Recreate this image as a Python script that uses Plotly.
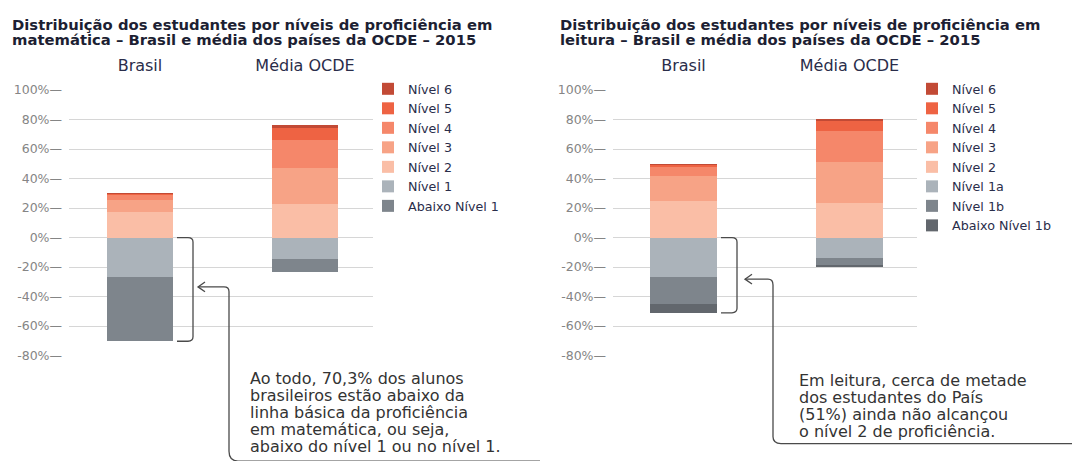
import plotly.graph_objects as go

W, H = 1080, 461

# ---------------- data ----------------
categories = ["Brasil", "Média OCDE"]

# Matemática
math_pos_levels = ["Nível 2", "Nível 3", "Nível 4", "Nível 5", "Nível 6"]
math_brasil_pos = [17.2, 8.4, 3.3, 0.8, 0.1]
math_ocde_pos = [22.5, 24.8, 18.6, 8.4, 2.3]
math_neg_levels = ["Nível 1", "Abaixo Nível 1"]
math_brasil_neg = [26.6, 43.7]
math_ocde_neg = [14.3, 9.1]

# Leitura
read_pos_levels = ["Nível 2", "Nível 3", "Nível 4", "Nível 5", "Nível 6"]
read_brasil_pos = [24.9, 17.0, 6.3, 1.3, 0.1]
read_ocde_pos = [23.2, 27.9, 21.0, 7.2, 1.1]
read_neg_levels = ["Nível 1a", "Nível 1b", "Abaixo Nível 1b"]
read_brasil_neg = [26.8, 18.0, 6.2]
read_ocde_neg = [13.6, 5.2, 1.3]

tick_values = [-80, -60, -40, -20, 0, 20, 40, 60, 80, 100]
tick_labels = ["-80%—", "-60%—", "-40%—", "-20%—", "0%—",
               "20%—", "40%—", "60%—", "80%—", "100%—"]

title_math = ["Distribuição dos estudantes por níveis de proficiência em",
              "matemática – Brasil e média dos países da OCDE – 2015"]
title_read = ["Distribuição dos estudantes por níveis de proficiência em",
              "leitura – Brasil e média dos países da OCDE – 2015"]
note_math = ["Ao todo, 70,3% dos alunos",
             "brasileiros estão abaixo da",
             "linha básica da proficiência",
             "em matemática, ou seja,",
             "abaixo do nível 1 ou no nível 1."]
note_read = ["Em leitura, cerca de metade",
             "dos estudantes do País",
             "(51%) ainda não alcançou",
             "o nível 2 de proficiência."]

# ---------------- styles ----------------
pos_colors = ["#fabea6", "#f7a386", "#f5876a", "#ee6343", "#c24a35"]
neg_colors_math = ["#abb3ba", "#7e858c"]
neg_colors_read = ["#abb3ba", "#7e858c", "#62676d"]
NAVY = "#2a2d4a"
FONT = "DejaVu Sans"

# the page body adds an 8px offset; positions below are in screen pixels
OFF = 8


def px(x):
    return (x - OFF) / W


def py(y):
    return 1 - (y - OFF) / H


fig = go.Figure()


def add_panel(xa, ya, leg, pos_levels, b_pos, o_pos, neg_levels, b_neg, o_neg, neg_colors):
    for i, lvl in enumerate(pos_levels):
        fig.add_trace(go.Bar(
            x=categories, y=[b_pos[i], o_pos[i]], name=lvl,
            marker=dict(color=pos_colors[i], line=dict(width=0)),
            width=0.4, xaxis=xa, yaxis=ya, legend=leg,
            legendrank=len(pos_levels) - i, hoverinfo="skip"))
    for i, lvl in enumerate(neg_levels):
        fig.add_trace(go.Bar(
            x=categories, y=[-b_neg[i], -o_neg[i]], name=lvl,
            marker=dict(color=neg_colors[i], line=dict(width=0)),
            width=0.4, xaxis=xa, yaxis=ya, legend=leg,
            legendrank=len(pos_levels) + 1 + i, hoverinfo="skip"))


add_panel("x", "y", "legend", math_pos_levels, math_brasil_pos, math_ocde_pos,
          math_neg_levels, math_brasil_neg, math_ocde_neg, neg_colors_math)
add_panel("x2", "y2", "legend2", read_pos_levels, read_brasil_pos, read_ocde_pos,
          read_neg_levels, read_brasil_neg, read_ocde_neg, neg_colors_read)

ydom = [py(359), py(84.5)]
yaxis_common = dict(
    range=[-80, 100], domain=ydom, tickvals=tick_values, ticktext=tick_labels,
    tickfont=dict(family=FONT, size=12.5, color="#858585"),
    showgrid=True, gridcolor="#d6d6d6", gridwidth=1.2,
    zeroline=False, showline=False, ticks="", ticklabelstandoff=6, fixedrange=True)
xaxis_common = dict(
    side="top", showgrid=False, zeroline=False, showline=False, ticks="",
    tickfont=dict(family=FONT, size=16, color=NAVY), ticklabelstandoff=15,
    type="category", fixedrange=True)

fig.update_layout(
    width=W, height=H, autosize=False,
    margin=dict(l=0, r=0, t=0, b=0),
    paper_bgcolor="white", plot_bgcolor="white",
    barmode="relative", bargap=0,
    xaxis=dict(domain=[px(69), px(373)], range=[-0.43, 1.412], anchor="y", **xaxis_common),
    yaxis=dict(anchor="x", **yaxis_common),
    xaxis2=dict(domain=[px(613), px(917)], range=[-0.425, 1.407], anchor="y2", **xaxis_common),
    yaxis2=dict(anchor="x2", **yaxis_common),
    legend=dict(x=px(368), y=py(68), xanchor="left", yanchor="top",
                font=dict(family=FONT, size=12.7, color=NAVY),
                bgcolor="rgba(0,0,0,0)", traceorder="normal"),
    legend2=dict(x=px(912), y=py(68), xanchor="left", yanchor="top",
                 font=dict(family=FONT, size=12.7, color=NAVY),
                 bgcolor="rgba(0,0,0,0)", traceorder="normal"),
    showlegend=True,
)

# titles
for x0, lines in ((10, title_math), (558, title_read)):
    for k, line in enumerate(lines):
        fig.add_annotation(
            text=line, xref="paper", yref="paper", x=px(x0), y=py(17 + 15 * k),
            xanchor="left", yanchor="middle", showarrow=False,
            font=dict(family=FONT, size=14.8, color="#1d1f33", weight="bold"))

# notes
for x0, y0, lines in ((248, 383, note_math), (797, 385, note_read)):
    for k, line in enumerate(lines):
        fig.add_annotation(
            text=line, xref="paper", yref="paper", x=px(x0), y=py(y0 + 17.4 * k),
            xanchor="left", yanchor="middle", showarrow=False,
            font=dict(family=FONT, size=16, color="#333333"))

LINE = dict(color="#4a4a4a", width=1.3)

# brackets (data y, paper x)
for yref, bx0, bx1, neg in (("y", 177, 193, math_brasil_neg), ("y2", 721, 737, read_brasil_neg)):
    bot = -sum(neg)
    r = 3
    a0, a1 = px(bx0), px(bx1)
    ac = px(bx1 - 5)
    path = (f"M {a0},0 L {ac},0 Q {a1},0 {a1},{-r} "
            f"L {a1},{bot + r} Q {a1},{bot} {ac},{bot} L {a0},{bot}")
    fig.add_shape(type="path", path=path, xref="paper", yref=yref, line=LINE)


def pp(x, y):
    return f"{px(x)},{py(y)}"


# connector arrows (screen pixel positions)
arrows = [
    ([(198, 288), (224, 288), (229, 288), (229, 293), (229, 458), (229, 468), (238, 468)], (540, 468)),
    ([(745, 280), (768, 280), (773, 280), (773, 286), (773, 443), (773, 450), (781, 450)], (1073, 450)),
]
for p, end in arrows:
    path = (f"M {pp(*p[0])} L {pp(*p[1])} Q {pp(*p[2])} {pp(*p[3])} "
            f"L {pp(*p[4])} Q {pp(*p[5])} {pp(*p[6])} L {pp(*end)}")
    fig.add_shape(type="path", path=path, xref="paper", yref="paper", line=LINE)
    tx, ty = p[0]
    head = f"M {pp(tx + 7, ty - 5)} L {pp(tx, ty)} L {pp(tx + 7, ty + 5)}"
    fig.add_shape(type="path", path=head, xref="paper", yref="paper", line=LINE)

fig.write_html("out.html")
